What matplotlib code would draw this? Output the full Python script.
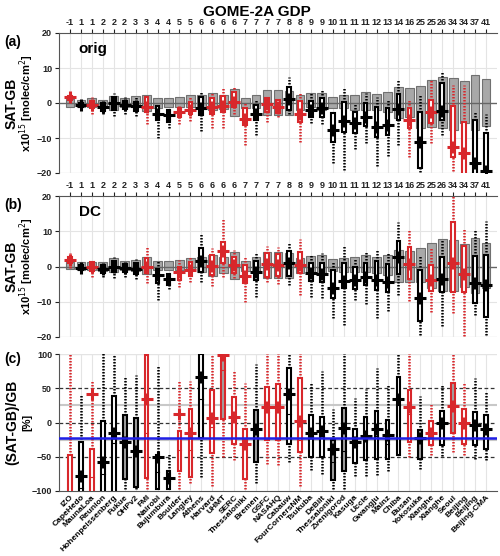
import matplotlib
matplotlib.use("Agg")
import matplotlib.pyplot as plt
import numpy as np

plt.rcParams['font.family'] = ['Liberation Sans', 'DejaVu Sans']

# stations, top labels, network colour
stations = ['IZO', 'CapeHedo', 'MaunaLoa', 'Reunion', 'Hohenpeissenberg', 'Fukue', 'OHPv2', 'FMI',
            'Nairobi', 'Bujumbura', 'Boulder', 'Langley', 'Athens', 'Harvard', 'UHMT', 'SERC',
            'Thessaloniki', 'Bremen', 'GSFC', 'NASAHQ', 'Cabauw', 'FourCornersNM', 'Tsukuba', 'DeBilt',
            'Thessaloniki', 'Zvenigorod', 'Kasuga', 'Uccle', 'Gwangju', 'Mainz', 'Chiba', 'Busan',
            'Yokosuka', 'Xianghe', 'Xianghe', 'Seoul', 'Beijing', 'Beijing', 'Beijing-CMA']
top_labels = ['-1', '1', '1', '2', '2', '2', '3', '3', '4', '4', '5', '5', '6', '6', '6', '6', '7',
              '7', '7', '7', '8', '8', '9', '9', '10', '11', '11', '11', '12', '13', '14', '16',
              '25', '25', '26', '34', '34', '37', '41']
is_red = [1, 0, 1, 0, 0, 0, 0, 1, 0, 0, 1, 1, 0, 1, 1, 1, 1, 0, 1, 1, 0, 1, 0, 0, 0, 0, 0, 0,
          0, 0, 0, 1, 0, 1, 0, 1, 1, 0, 0]

# (a) orig, x1e15 molec/cm2
a_mean = [1.6, -0.5, -0.7, -1.2, -0.1, -0.5, -0.9, -1.2, -3.0, -3.4, -2.7, -2.0, -1.5, -1.2, -0.9, 0.4,
          -4.6, -3.0, -0.3, -1.2, 1.1, -3.0, -2.0, -1.5, -7.7, -5.0, -5.8, -3.9, -6.8, -6.3, -1.7, -4.9,
          -11.0, -2.5, -2.2, -12.5, -14.4, -17.2, -19.3]
a_q25 = [0.9, -1.2, -1.5, -2.3, -2.0, -1.6, -2.2, -2.5, -4.9, -5.3, -4.1, -3.1, -3.4, -3.1, -2.5, -1.2,
         -6.3, -4.9, -2.5, -2.8, -2.0, -5.3, -3.9, -3.9, -11.0, -8.2, -8.7, -6.6, -9.6, -9.1, -4.9, -7.2,
         -18.7, -5.8, -4.9, -15.5, -22.0, -22.0, -22.0]
a_q75 = [2.1, 0.1, 0.6, 0.1, 1.6, 0.7, 0.4, 1.6, -0.9, -2.0, -1.5, 0.4, 1.6, 1.3, 2.0, 3.2,
         -1.5, -0.6, 1.3, 0.9, 4.5, 0.7, 0.7, 1.3, -2.8, 0.4, -2.5, -0.1, -1.0, -1.5, 2.6, -1.5,
         -2.5, 1.0, 5.6, -1.0, -5.3, -4.9, -8.5]
a_lo = [0.3, -2.0, -3.0, -3.0, -3.7, -3.0, -3.7, -6.0, -10.1, -7.0, -6.0, -5.0, -7.9, -7.0, -7.0, -3.0,
        -12.0, -9.1, -5.3, -4.1, -3.0, -11.0, -5.8, -6.0, -17.2, -19.0, -13.0, -11.5, -18.0, -15.0, -12.0, -15.3,
        -19.6, -11.5, -9.1, -22.0, -22.0, -22.0, -22.0]
a_hi = [3.0, 0.9, 1.6, 0.9, 3.0, 1.6, 1.6, 2.3, -0.3, -1.0, -0.9, 1.6, 3.5, 2.8, 4.3, 4.7,
        0.1, 0.9, 1.8, 1.8, 7.5, 2.8, 2.8, 3.9, -2.5, 4.5, -0.1, 2.8, 1.8, 0.9, 6.6, 0.9,
        2.3, 6.8, 9.0, 5.1, 5.1, -2.5, -3.0]
a_gb_lo = [-1.0, -1.0, -1.2, -1.0, -2.0, -1.0, -1.0, -2.2, -1.5, -1.2, -1.2, -1.2, -1.8, -2.0, -1.8, -3.7,
           -1.5, -1.5, -3.4, -3.4, -3.4, -2.0, -1.0, -2.0, -1.5, -1.5, -2.0, -2.0, -2.0, -2.5, -4.4, -4.1,
           -7.2, -6.8, -7.2, -7.7, -5.8, -7.7, -6.6]
a_gb_hi = [1.2, 1.0, 1.4, 1.0, 2.0, 1.4, 1.9, 2.4, 1.3, 1.3, 1.6, 2.3, 2.2, 2.8, 2.4, 3.9,
           1.4, 2.3, 3.7, 3.7, 3.5, 2.3, 2.8, 3.0, 1.6, 2.2, 2.4, 3.2, 2.6, 3.0, 4.7, 4.2,
           4.9, 6.6, 7.5, 7.1, 6.4, 8.0, 6.8]

# (b) DC
b_mean = [1.8, -0.3, 0.0, -0.7, 0.0, -0.3, -0.7, 0.0, -2.4, -3.6, -1.7, -1.0, 1.6, 0.2, 4.4, 0.4,
          -2.6, -1.7, 0.6, 0.4, 0.9, 0.4, -1.9, -2.2, -6.2, -4.1, -3.8, -2.9, -3.8, -4.3, 2.8, 0.6,
          -8.8, -3.8, -3.5, 0.9, -2.2, -4.8, -5.3]
b_q25 = [0.9, -1.0, -1.3, -1.9, -1.7, -1.7, -2.2, -1.9, -4.8, -5.3, -3.8, -2.6, -1.7, -2.4, 0.9, -1.9,
         -4.8, -3.8, -2.9, -2.6, -2.6, -1.9, -4.1, -4.5, -9.0, -6.2, -6.4, -5.3, -6.7, -7.3, -2.2, -3.5,
         -15.6, -7.0, -7.1, -7.1, -7.3, -10.4, -14.2]
b_q75 = [2.8, 0.4, 1.2, 0.4, 1.6, 0.8, 0.9, 2.5, -0.7, -2.2, 0.0, 1.2, 5.2, 3.3, 7.0, 2.8,
         0.4, 1.6, 3.7, 3.5, 4.4, 4.2, 0.9, 0.9, -1.0, 0.9, 0.0, 0.9, 1.6, 0.6, 7.2, 5.6,
         -1.0, 0.4, 2.8, 12.5, 5.9, 3.1, 3.3]
b_lo = [-0.5, -1.5, -2.9, -2.9, -3.2, -2.9, -3.5, -4.8, -9.5, -6.4, -5.7, -4.5, -4.5, -5.4, -2.9, -3.2,
        -10.0, -8.6, -4.3, -5.1, -5.3, -8.1, -8.6, -9.0, -14.7, -16.6, -9.5, -10.5, -14.7, -12.6, -8.1, -9.8,
        -19.4, -12.8, -17.0, -13.3, -19.6, -13.8, -19.4]
b_hi = [3.7, 0.9, 1.8, 1.2, 2.8, 1.6, 2.1, 5.6, 1.6, -1.5, 1.8, 3.1, 9.1, 5.2, 13.7, 4.7,
        2.8, 3.7, 5.9, 5.6, 6.9, 7.8, 3.3, 3.7, 1.4, 5.9, 2.5, 4.0, 5.0, 3.7, 12.5, 10.6,
        3.3, 5.6, 7.5, 21.0, 11.0, 10.4, 12.9]
b_gb_lo = [-0.7, -1.0, -1.0, -1.3, -1.7, -1.0, -1.3, -2.2, -1.0, -1.0, -1.0, -1.0, -1.7, -2.6, -1.9, -3.5,
           -1.3, -1.3, -3.4, -3.4, -3.2, -1.9, -1.7, -1.9, -1.3, -1.7, -1.7, -1.7, -1.9, -2.4, -4.3, -4.3,
           -4.5, -6.2, -7.0, -7.0, -5.7, -7.6, -6.2]
b_gb_hi = [1.2, 1.2, 1.4, 1.4, 2.3, 1.6, 1.9, 2.7, 1.6, 1.6, 1.8, 2.5, 2.8, 3.3, 2.8, 4.2,
           1.7, 2.8, 4.2, 4.2, 3.7, 2.3, 3.1, 3.4, 2.1, 2.5, 2.8, 3.4, 2.8, 3.3, 4.7, 4.4,
           5.3, 6.8, 7.8, 7.5, 6.3, 8.0, 6.8]

# (c) relative difference, %
c_mean = [-120, -78, 42, -57, -15, -28, -42, 34, -50, -81, 13, -15, 66, 7, 98, 8,
          -32, -10, 23, 23, 41, 2, -15, -12, -38, -8, -28, -20, -9, -18, 34, 23,
          -22, -15, -1, 24, 0, -3, -9]
c_med = [-110, -95, -80, -75, -30, -30, -45, -15, -72, -85, -40, -40, 35, -6, 77, 5,
         -26, -15, 15, 15, 13, -25, -20, -20, -58, -42, -35, -25, -20, -32, 25, 13,
         -25, -20, -5, 28, -8, -5, -12]
c_q25 = [-110, -110, -110, -110, -110, -82, -94, -81, -97, -97, -71, -80, -23, -45, 5, -31,
         -82, -58, -26, -26, -32, -43, -50, -50, -84, -71, -59, -55, -53, -53, -48, -28,
         -53, -33, -33, -16, -32, -33, -38]
c_q75 = [-48, -29, -38, 2, 39, 11, 7, 98, -48, -71, -13, 20, 100, 47, 110, 37,
         -9, 18, 52, 56, 80, 65, 11, 8, -26, 21, -9, 8, 17, 3, 67, 47,
         -11, 2, 17, 57, 20, 16, 11]
c_lo = [-110, -110, -110, -110, -110, -110, -110, -110, -110, -110, -110, -88, -80, -92, -50, -55,
        -97, -89, -60, -62, -57, -92, -70, -75, -110, -110, -78, -78, -77, -71, -48, -50,
        -68, -48, -49, -43, -48, -53, -55]
c_hi = [110, 40, 60, 110, 98, 68, 69, 110, 83, -44, 60, 60, 110, 98, 110, 75,
        58, 85, 110, 110, 110, 110, 57, 75, 20, 110, 36, 49, 79, 56, 110, 110,
        39, 29, 56, 110, 57, 65, 46]
c_grayfill = [0, 0, 0, 0, 0, 1, 1, 0, 0, 0, 0, 0, 0, 0, 1, 0, 0, 1, 0, 0, 0, 0, 0, 0,
              1, 1, 0, 0, 0, 0, 0, 0, 1, 0, 0, 1, 0, 0, 0]
c_median_all = -23

RED = '#d8272b'
n = len(stations)
x = np.arange(1, n + 1)

fig = plt.figure(figsize=(5.0, 5.56), dpi=100)
W, H = 500, 556


def add_ax(left, top, right, bottom):
    return fig.add_axes([left / W, 1 - bottom / H, (right - left) / W, (bottom - top) / H])


def draw_boxes(ax, mean, q25, q75, lo, hi, gb_lo=None, gb_hi=None, med=None, fill=None):
    if gb_lo is not None:
        ax.bar(x, np.array(gb_hi) - np.array(gb_lo), bottom=gb_lo, width=0.8,
               color='#a8a8a8', edgecolor='#707070', linewidth=0.8, zorder=2)
    for i in range(n):
        c = RED if is_red[i] else 'black'
        ax.plot([x[i], x[i]], [lo[i], q25[i]], color=c, lw=1.8, ls=(0, (0.6, 0.6)), zorder=3)
        ax.plot([x[i], x[i]], [q75[i], hi[i]], color=c, lw=1.8, ls=(0, (0.6, 0.6)), zorder=3)
        fc = '#a0a0a0' if (fill is not None and fill[i]) else 'white'
        ax.add_patch(plt.Rectangle((x[i] - 0.17, q25[i]), 0.34, q75[i] - q25[i],
                                   facecolor=fc, edgecolor=c, lw=1.5, zorder=4))
        if med is not None:
            ax.plot([x[i] - 0.17, x[i] + 0.17], [med[i], med[i]], color=c, lw=0.8, zorder=5)
        ax.plot(x[i], mean[i], marker='+', ms=8, mew=2.2, color=c, zorder=6)


def style_ax(ax, ylim, yticks):
    ax.set_xlim(0, n + 1)
    ax.set_ylim(*ylim)
    ax.set_yticks(yticks)
    ax.set_xticks(x)
    ax.grid(True, axis='x', color='#e4e4e4', lw=0.8, zorder=0)
    ax.set_axisbelow(True)
    for s in ['right', 'bottom']:
        ax.spines[s].set_visible(False)
    ax.spines['left'].set_color('#555555')
    ax.spines['top'].set_color('#555555')
    ax.tick_params(axis='y', labelsize=6.5, width=0.8, length=3, pad=2, colors='#222222')
    for t in ax.get_yticklabels():
        t.set_fontweight('bold')


def ylabels(top, bot, line1, line2):
    yc = 1 - (top + bot) / 2 / H
    fig.text(12 / W, yc, line1, rotation=90, ha='center', va='center', fontsize=10, fontweight='bold')
    fig.text(27 / W, yc, line2, rotation=90, ha='center', va='center', fontsize=8, fontweight='bold')


# panel (a) and (b)
for (top, bot, mean, q25, q75, lo, hi, gl, gh, lbl, tag) in [
        (33, 173, a_mean, a_q25, a_q75, a_lo, a_hi, a_gb_lo, a_gb_hi, '(a)', 'orig'),
        (196, 337, b_mean, b_q25, b_q75, b_lo, b_hi, b_gb_lo, b_gb_hi, '(b)', 'DC')]:
    ax = add_ax(59, top, 497, bot)
    style_ax(ax, (-20, 20), [-20, -10, 0, 10, 20])
    for yv in [-10, 10]:
        ax.axhline(yv, color='#e4e4e4', lw=0.8, zorder=0)
    ax.axhline(0, color='#666666', lw=1.0, zorder=2.5)
    ax.axhline(-20, color='#e4e4e4', lw=1.0, zorder=0)
    draw_boxes(ax, mean, q25, q75, lo, hi, gl, gh)
    ax.xaxis.tick_top()
    ax.set_xticklabels(top_labels, fontsize=6.5, fontweight='bold')
    ax.tick_params(axis='x', length=3, pad=1, colors='#222222')
    ax.text(0.045, 0.86, tag, transform=ax.transAxes, fontsize=11, fontweight='bold')
    ylabels(top, bot, 'SAT-GB', 'x10$^{15}$ [molec/cm$^2$]')
    fig.text(4 / W, 1 - (top + 9) / H, lbl, fontsize=10, fontweight='bold', va='center')

# panel (c)
ax = add_ax(59, 354, 497, 491)
style_ax(ax, (-100, 100), [-100, -50, 0, 50, 100])
for yv in [25, -25]:
    ax.axhline(yv, color='#c8c8c8', lw=1.5, zorder=1)
for yv in [50, 0, -50]:
    ax.axhline(yv, color='#333333', lw=0.9, ls=(0, (3, 2)), zorder=1)
ax.axhline(100, color='#e4e4e4', lw=1.0, zorder=0)
draw_boxes(ax, c_mean, c_q25, c_q75, c_lo, c_hi, med=c_med, fill=c_grayfill)
ax.axhline(c_median_all, color='#1f1fe6', lw=1.8, zorder=7)
ax.spines['top'].set_visible(False)
ax.spines['bottom'].set_visible(True)
ax.spines['bottom'].set_color('#555555')
ax.set_xticklabels(stations, rotation=45, ha='right', rotation_mode='anchor', fontsize=6,
                   fontweight='bold')
ax.tick_params(axis='x', length=0, pad=2)
ylabels(354, 491, '(SAT-GB)/GB', '[%]')
fig.text(4 / W, 1 - 359 / H, '(c)', fontsize=10, fontweight='bold', va='center')

fig.text(257 / W, 1 - 12 / H, 'GOME-2A GDP', fontsize=11, fontweight='bold', ha='center', va='center')

fig.savefig('out.png', dpi=100)
